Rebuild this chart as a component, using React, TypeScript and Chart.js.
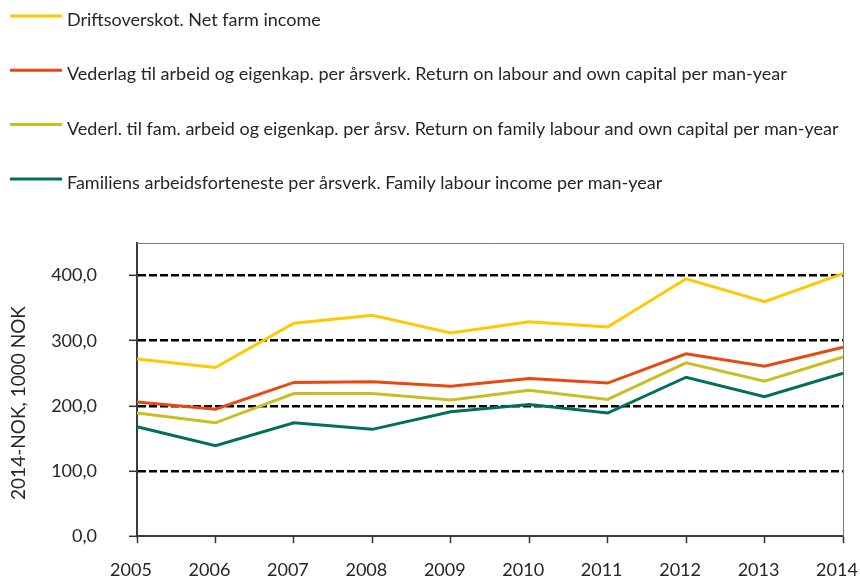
import React, { useEffect, useRef } from "react";
import { Chart, registerables } from "chart.js";

Chart.register(...registerables);

const years = ["2005", "2006", "2007", "2008", "2009", "2010", "2011", "2012", "2013", "2014"];
const netFarmIncome = [272, 259, 327, 339, 312, 329, 321, 395, 360, 403];
const returnLabourCapital = [206, 195, 236, 237, 230, 242, 235, 280, 261, 290];
const returnFamilyLabourCapital = [189, 174, 219, 219, 209, 224, 210, 266, 238, 275];
const familyLabourIncome = [168, 139, 174, 164, 191, 202, 189, 244, 214, 250];
const seriesLabels = [
  "Driftsoverskot. Net farm income",
  "Vederlag til arbeid og eigenkap. per årsverk. Return on labour and own capital per man-year",
  "Vederl. til fam. arbeid og eigenkap. per årsv. Return on family labour and own capital per man-year",
  "Familiens arbeidsforteneste per årsverk. Family labour income per man-year",
];
const seriesColors = ["#FFC800", "#E8490F", "#C8BF22", "#00705A"];
const yTitle = "2014-NOK, 1000 NOK";
const FONT = "Lato";

const legendPlugin = {
  id: "vertLegend",
  afterDraw(chart: any) {
    const ctx = chart.ctx;
    ctx.save();
    chart.data.datasets.forEach((ds: any, i: number) => {
      const lineY = 16 + i * 54.3;
      ctx.strokeStyle = ds.borderColor;
      ctx.lineWidth = 3;
      ctx.beginPath();
      ctx.moveTo(10, lineY);
      ctx.lineTo(62, lineY);
      ctx.stroke();
      ctx.fillStyle = "#262626";
      ctx.font = `18px ${FONT}`;
      ctx.textAlign = "left";
      ctx.textBaseline = "alphabetic";
      ctx.fillText(ds.label, 67, lineY + 10);
    });
    // y-axis title
    ctx.translate(19, 403);
    ctx.rotate(-Math.PI / 2);
    ctx.font = `19px ${FONT}`;
    ctx.textAlign = "center";
    ctx.textBaseline = "middle";
    ctx.fillStyle = "#262626";
    ctx.fillText(yTitle, 0, 0);
    ctx.restore();
  },
};

const framePlugin = {
  id: "frame",
  beforeDatasetsDraw(chart: any) {
    const { ctx, chartArea } = chart;
    ctx.save();
    ctx.strokeStyle = "#7a7a7a";
    ctx.lineWidth = 1;
    ctx.beginPath();
    ctx.moveTo(chartArea.left, chartArea.top + 0.5);
    ctx.lineTo(chartArea.right + 0.5, chartArea.top + 0.5);
    ctx.lineTo(chartArea.right + 0.5, chartArea.bottom);
    ctx.stroke();
    ctx.restore();
  },
};

export default function App() {
  const ref = useRef<HTMLCanvasElement | null>(null);
  useEffect(() => {
    if (!ref.current) return;
    const datasets = [netFarmIncome, returnLabourCapital, returnFamilyLabourCapital, familyLabourIncome].map(
      (d, i) => ({
        label: seriesLabels[i],
        data: d,
        borderColor: seriesColors[i],
        backgroundColor: seriesColors[i],
        borderWidth: 3,
        pointRadius: 0,
        tension: 0,
        fill: false,
      })
    );
    const chart = new Chart(ref.current, {
      type: "line",
      data: { labels: years, datasets },
      plugins: [legendPlugin, framePlugin],
      options: {
        animation: false,
        responsive: false,
        layout: { padding: { top: 243, left: 0, right: 0, bottom: 0 } },
        plugins: { legend: { display: false }, tooltip: { enabled: false } },
        scales: {
          x: {
            offset: false,
            grid: {
              drawOnChartArea: false,
              drawTicks: true,
              tickLength: 7,
              tickColor: "#333",
              tickWidth: 1.5,
            },
            border: { color: "#3a3a3a", width: 2 },
            ticks: {
              font: { family: FONT, size: 18 },
              color: "#262626",
              padding: 16,
              labelOffset: -6,
              maxRotation: 0,
              autoSkip: false,
            },
            afterFit(scale: any) {
              scale.height = 41;
              scale.paddingRight = 17;
              scale.paddingLeft = 0;
            },
          },
          y: {
            min: 0,
            max: 450,
            ticks: {
              stepSize: 100,
              font: { family: FONT, size: 18 },
              color: "#262626",
              padding: 32,
              callback: (v: any) => Number(v).toFixed(1).replace(".", ","),
            },
            afterBuildTicks(scale: any) {
              scale.ticks = scale.ticks.filter((t: any) => t.value <= 400);
            },
            grid: {
              color: (c: any) => (c.tick && c.tick.value === 0 ? "rgba(0,0,0,0)" : "#000"),
              lineWidth: 2.6,
              tickColor: "#333",
              tickWidth: 1.5,
              tickLength: 8,
              tickBorderDash: [],
            },
            border: { color: "#3a3a3a", width: 2, dash: [8, 3] },
            afterFit(scale: any) {
              scale.width = 137;
            },
          },
        },
      },
    });
    return () => chart.destroy();
  }, []);
  return (
    <canvas
      ref={ref}
      width={860}
      height={579}
      style={{ position: "absolute", left: 0, top: 0, display: "block" }}
    />
  );
}
